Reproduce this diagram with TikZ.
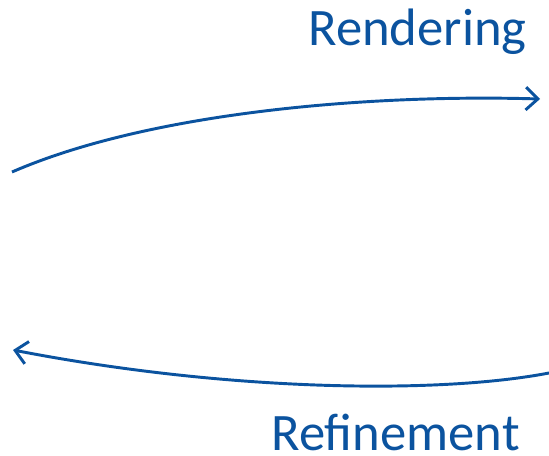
\documentclass[tikz,border=0pt]{standalone}
\usepackage{fontspec}
\setmainfont{Carlito}
\usetikzlibrary{arrows.meta}
\definecolor{flow}{HTML}{0B539F}
\tikzset{
  lbl/.style={text=flow, font=\fontsize{39.5}{46}\selectfont, inner sep=0pt, text depth=0pt},
  flowarrow/.style={draw=flow, line width=2.2pt, -{Straight Barb[length=9pt, width=17pt, line width=2.2pt]}}
}
\begin{document}
\begin{tikzpicture}[x=0.75pt, y=-0.75pt]
\useasboundingbox (0,0) rectangle (549,456);
\node[lbl, anchor=base east] (rend) at (527,46) {Rendering};
\node[lbl, anchor=base east] (refi) at (520,450) {Refinement};
\coordinate (a1) at (12,172);
\coordinate (a2) at (540,99);
\coordinate (b1) at (549,373);
\coordinate (b2) at (13,350);
\draw[flowarrow] (a1) .. controls (150,112) and (370,94) .. (a2);
\draw[flowarrow] (b1) .. controls (440,394) and (230,392) .. (b2);
\end{tikzpicture}
\end{document}
